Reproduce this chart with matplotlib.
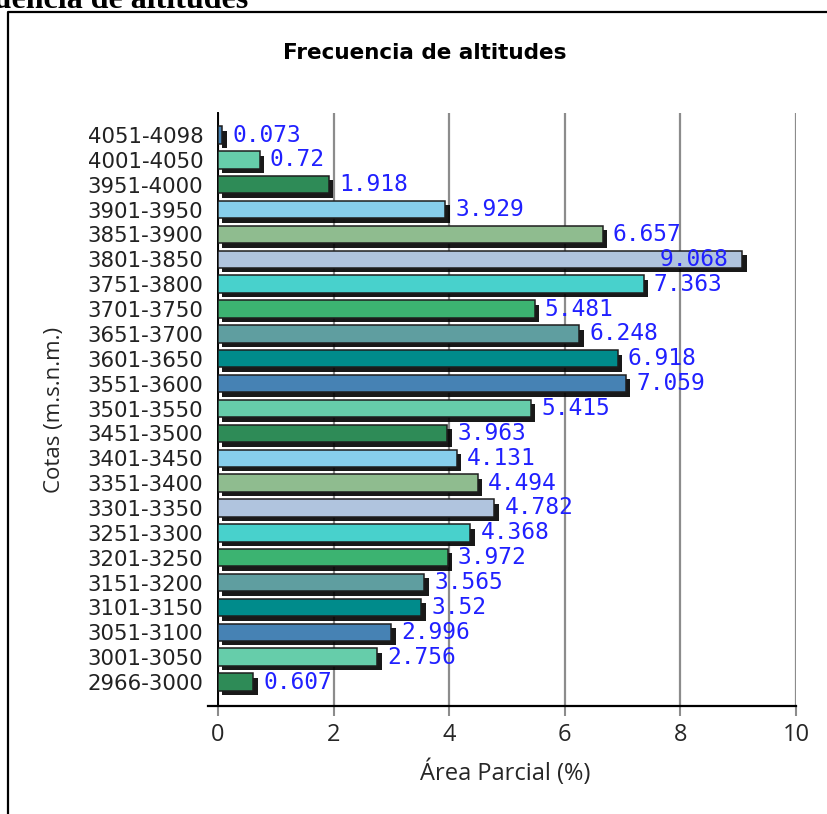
import matplotlib
matplotlib.use("Agg")
import matplotlib.pyplot as plt
import matplotlib.patheffects as pe
from matplotlib.lines import Line2D

# Altitude bands (bottom to top) and share of total area (%)
bands = ["2966-3000", "3001-3050", "3051-3100", "3101-3150", "3151-3200",
         "3201-3250", "3251-3300", "3301-3350", "3351-3400", "3401-3450",
         "3451-3500", "3501-3550", "3551-3600", "3601-3650", "3651-3700",
         "3701-3750", "3751-3800", "3801-3850", "3851-3900", "3901-3950",
         "3951-4000", "4001-4050", "4051-4098"]
area_pct = [0.607, 2.756, 2.996, 3.52, 3.565, 3.972, 4.368, 4.782, 4.494,
            4.131, 3.963, 5.415, 7.059, 6.918, 6.248, 5.481, 7.363, 9.068,
            6.657, 3.929, 1.918, 0.72, 0.073]
x_ticks = [0, 2, 4, 6, 8, 10]

palette = ["#2E8B57", "#66CDAA", "#4682B4", "#008B8B", "#5F9EA0",
           "#3CB371", "#48D1CC", "#B0C4DE", "#8FBC8F", "#87CEEB"]
colors = [palette[i % len(palette)] for i in range(len(bands))]

W, H = 827, 814
fig = plt.figure(figsize=(W / 100, H / 100), dpi=100)
fig.patch.set_facecolor("white")

# document heading partly outside the page
fig.text(248 / W, 1 - 8 / H, "Frecuencia de altitudes", ha="right",
         va="baseline", fontsize=23, fontweight="bold",
         family="Liberation Serif", color="black")

# frame around the chart
fig.add_artist(Line2D([8 / W, 8 / W, 1.0], [0.0, 1 - 12 / H, 1 - 12 / H],
                      transform=fig.transFigure, color="black", lw=1.6))

ax = fig.add_axes([218 / W, 1 - 706 / H, (796 - 218) / W, (706 - 113) / H])
ax.set_facecolor("white")
ax.set_axisbelow(True)

pos = list(range(len(bands)))
shadow = [pe.SimplePatchShadow(offset=(3.2, -3.2), shadow_rgbFace="black",
                               alpha=0.9), pe.Normal()]
bars = ax.barh(pos, area_pct, height=0.70, color=colors,
               edgecolor="#1e1e1e", linewidth=1.1, zorder=3)
for b in bars:
    b.set_path_effects(shadow)

ax.set_xlim(0, 10)
ax.set_ylim(-0.965, 22.885)

for p, v in zip(pos, area_pct):
    label = f"{v:g}"
    if v > 8.5:
        ax.annotate(label, (v, p), xytext=(-14, 0), textcoords="offset pixels",
                    ha="right", va="center", color="#2020ff", fontsize=16.5,
                    family="DejaVu Sans Mono", zorder=5)
    else:
        ax.annotate(label, (v, p), xytext=(10, 0), textcoords="offset pixels",
                    ha="left", va="center", color="#2020ff", fontsize=16.5,
                    family="DejaVu Sans Mono", zorder=5)

# axes, ticks and grid
ax.set_xticks(x_ticks)
ax.set_xticklabels([str(t) for t in x_ticks], family="Open Sans",
                   fontsize=17, color="#262626")
ax.tick_params(axis="x", length=7, width=1.5, color="#8c8c8c", pad=5)
ax.xaxis.grid(True, color="#8c8c8c", lw=1.6)

ax.set_yticks(pos)
ax.set_yticklabels(bands, family="DejaVu Sans", fontsize=15.3, color="#222222")
ax.tick_params(axis="y", which="major", length=0, pad=10.5)
ax.set_yticks(pos[4::5], minor=True)
ax.tick_params(axis="y", which="minor", length=5, width=1.3, color="#8c8c8c")
ax.yaxis.grid(True, which="minor", color="#8c8c8c", lw=1.6)

for s in ("top", "right"):
    ax.spines[s].set_visible(False)
ax.spines["left"].set_color("black")
ax.spines["left"].set_linewidth(1.4)
ax.spines["bottom"].set_color("black")
ax.spines["bottom"].set_linewidth(1.6)
ax.spines["bottom"].set_bounds(-0.17, 10)

fig.text(505 / W, 1 - 773 / H, "Área Parcial (%)", ha="center", va="center",
         family="Open Sans", fontsize=17, color="#262626")
fig.text(55 / W, 1 - 410 / H, "Cotas (m.s.n.m.)", ha="center", va="center",
         rotation=90, family="Open Sans", fontsize=16, color="#262626")

fig.text(425 / W, 1 - 53 / H, "Frecuencia de altitudes", ha="center",
         va="center", family="DejaVu Sans", fontweight="bold", fontsize=15.5,
         color="black")

fig.savefig("out.png", dpi=100, facecolor="white")
